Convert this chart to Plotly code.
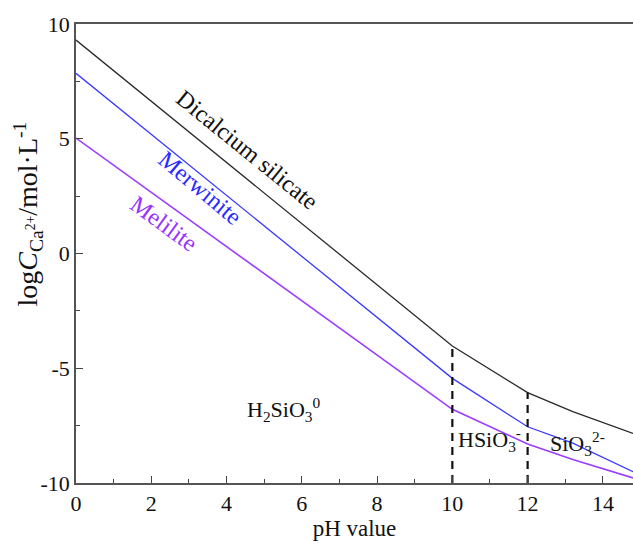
import plotly.graph_objects as go

ph = [0, 10, 12, 13.2, 14.8]
dicalcium = [9.3, -4.03, -6.06, -6.89, -7.84]
merwinite = [7.85, -5.44, -7.55, -8.26, -9.51]
melilite = [5.03, -6.79, -8.30, -8.98, -9.78]

boundary_x = [10, 12]
boundary_top = [-4.05, -6.06]

x_ticks = [0, 2, 4, 6, 8, 10, 12, 14]
y_ticks = [-10, -5, 0, 5, 10]
y_tick_text = ["-10", "-5", "0", "5", "10"]

FONT = '"Liberation Serif", "Times New Roman", Times, serif'

fig = go.Figure()
fig.add_trace(go.Scatter(x=ph, y=dicalcium, mode="lines", line=dict(color="#2a2a2a", width=1.3), showlegend=False))
fig.add_trace(go.Scatter(x=ph, y=merwinite, mode="lines", line=dict(color="#3a3aff", width=1.3), showlegend=False))
fig.add_trace(go.Scatter(x=ph, y=melilite, mode="lines", line=dict(color="#9b3dff", width=1.6), showlegend=False))

for bx, bt in zip(boundary_x, boundary_top):
    fig.add_trace(go.Scatter(x=[bx, bx], y=[-10, bt], mode="lines",
                             line=dict(color="#111111", width=2.2, dash="8px,6px"), showlegend=False))

curve_labels = [
    ("Dicalcium silicate", 4.55, 4.5, 39, "#111111"),
    ("Merwinite", 3.3, 2.85, 40, "#2a2aff"),
    ("Melilite", 2.35, 1.3, 36, "#9933ff"),
]
for txt, x, y, ang, col in curve_labels:
    fig.add_annotation(x=x, y=y, text=txt, showarrow=False, textangle=ang,
                       font=dict(family=FONT, size=24, color=col))

region_labels = [
    ("H<sub>2</sub>SiO<sub>3</sub><sup>0</sup>", 4.5, -6.8),
    ("HSiO<sub>3</sub><sup>-</sup>", 10.1, -8.1),
    ("SiO<sub>3</sub><sup>2-</sup>", 12.55, -8.3),
]
for txt, x, y in region_labels:
    fig.add_annotation(x=x, y=y, text=txt, showarrow=False, xanchor="left",
                       font=dict(family=FONT, size=22, color="#111111"))

# y-axis title as rotated annotation (positioned like the reference)
fig.add_annotation(xref="paper", yref="paper", x=-0.086, y=0.585, showarrow=False,
                   xanchor="center", yanchor="middle",
                   text="log<i>C</i><sub>Ca<sup>2+</sup></sub>/mol·L<sup>-1</sup>", textangle=-90,
                   font=dict(family=FONT, size=28, color="#111111"))

fig.update_layout(
    width=633, height=545,
    margin=dict(l=76, r=0, t=24, b=62),
    plot_bgcolor="white", paper_bgcolor="white",
    font=dict(family=FONT, size=22, color="#111111"),
)
fig.update_xaxes(
    range=[0, 14.8], tickvals=x_ticks, ticks="inside", ticklen=7, tickwidth=1.3, tickcolor="#444",
    showline=True, linecolor="#555", linewidth=1.5, mirror=True, showgrid=False, zeroline=False,
    minor=dict(dtick=1, ticks="inside", ticklen=4, tickcolor="#444", tickwidth=1.2),
    title=dict(text="pH value", standoff=2, font=dict(family=FONT, size=23)),
    tickfont=dict(family=FONT, size=22),
)
fig.update_yaxes(
    range=[-10, 10], tickvals=y_ticks, ticktext=y_tick_text, ticks="inside", ticklen=7, tickwidth=1.3,
    tickcolor="#444", showline=True, linecolor="#555", linewidth=1.5, mirror=False, showgrid=False,
    zeroline=False,
    minor=dict(dtick=2.5, ticks="inside", ticklen=4, tickcolor="#444", tickwidth=1.2),
    tickfont=dict(family=FONT, size=22),
)
fig.write_html("out.html")
